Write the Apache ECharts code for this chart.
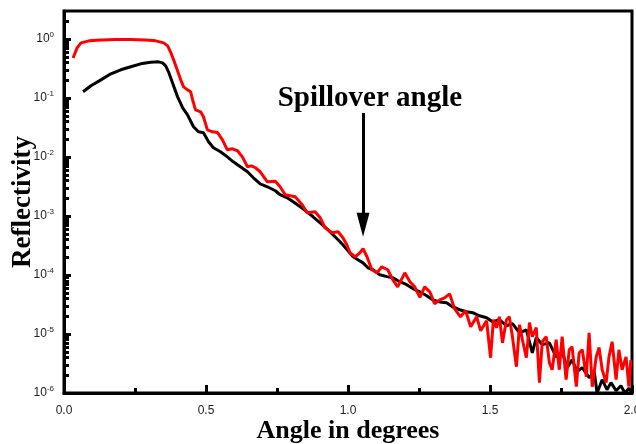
<!DOCTYPE html>
<html style="height: 100%">
<head>
    <meta charset="utf-8">
    <script src="https://cdn.jsdelivr.net/npm/echarts@6/dist/echarts.min.js"></script>
</head>
<body style="height: 100%; margin: 0; background: #fff">
    <div id="main" style="width: 636px; height: 444px"></div>
    <script type="text/javascript">
        // angle in degrees, reflectivity
        var redAngle = [0.032, 0.046, 0.060, 0.088, 0.130, 0.182, 0.235, 0.288, 0.323, 0.351, 0.365, 0.375, 0.386, 0.396,
            0.411, 0.421, 0.435, 0.446, 0.453, 0.463, 0.481, 0.491, 0.505, 0.523, 0.540, 0.558, 0.575, 0.593, 0.611,
            0.628, 0.646, 0.660, 0.674, 0.691, 0.716, 0.744, 0.761, 0.779, 0.814, 0.839, 0.856, 0.884, 0.902, 0.919,
            0.944, 0.965, 0.982, 0.996, 1.007, 1.025, 1.042, 1.053, 1.067, 1.084, 1.102, 1.119, 1.140, 1.158, 1.175,
            1.200, 1.218, 1.235, 1.253, 1.270, 1.288, 1.305, 1.323, 1.340, 1.358, 1.375, 1.396, 1.414, 1.432, 1.453,
            1.467, 1.488, 1.502, 1.512, 1.523, 1.533, 1.544, 1.558, 1.568, 1.579, 1.593, 1.604, 1.614, 1.628, 1.639,
            1.649, 1.663, 1.674, 1.684, 1.698, 1.709, 1.719, 1.733, 1.744, 1.754, 1.768, 1.779, 1.789, 1.804, 1.814,
            1.825, 1.839, 1.849, 1.860, 1.874, 1.884, 1.895, 1.909, 1.919, 1.930, 1.944, 1.954, 1.965, 1.979, 1.989, 1.996];
        var redR = [0.48, 0.71, 0.865, 0.935, 0.97, 0.99, 0.99, 0.97, 0.935, 0.865, 0.77, 0.61, 0.445, 0.326,
            0.204, 0.155, 0.138, 0.128, 0.0936, 0.0633, 0.0586, 0.0482, 0.029, 0.0268, 0.0262, 0.0196, 0.0133, 0.0138, 0.0128,
            0.0101, 0.00685, 0.0071, 0.0066, 0.00564, 0.00381, 0.0039, 0.00314, 0.0023, 0.00212, 0.00156, 0.00114, 0.00118, 9.36e-4, 6.34e-4,
            5.21e-4, 5.42e-4, 4.29e-4, 3.26e-4, 2.39e-4, 2.04e-4, 2.39e-4, 2.79e-4, 2.04e-4, 1.23e-4, 1.09e-4, 1.38e-4, 1.23e-4, 8.3e-5, 6.3e-5,
            1.09e-4, 7.7e-5, 6.3e-5, 4.19e-5, 6.3e-5, 5.2e-5, 3.27e-5, 3.8e-5, 4.1e-5, 4.8e-5, 2.69e-5, 1.96e-5, 2.48e-5, 1.33e-5, 1.96e-5,
            1.14e-5, 1.68e-5, 3.96e-6, 1.75e-5, 1.28e-5, 1.96e-5, 7.1e-6, 1.75e-5, 1.96e-5, 9.0e-6, 2.79e-6, 1.44e-5, 8.0e-6, 3.97e-6, 1.56e-5,
            9.0e-6, 1.28e-5, 1.5e-6, 7.4e-6, 9.0e-6, 3.27e-6, 2.48e-6, 8.0e-6, 2.48e-6, 9.0e-6, 1.68e-6, 5.4e-6, 6.1e-6, 1.28e-6, 4.8e-6,
            5.4e-6, 1.89e-6, 1.05e-5, 1.28e-6, 4.1e-6, 5.9e-6, 2.48e-6, 1.5e-6, 4.1e-6, 7.4e-6, 1.68e-6, 5.4e-6, 2.48e-6, 4.1e-6, 1.28e-6, 3.6e-6];

        var blackAngle = [0.067, 0.095, 0.130, 0.165, 0.200, 0.235, 0.270, 0.305, 0.333, 0.347, 0.358, 0.368, 0.382, 0.400,
            0.418, 0.435, 0.456, 0.474, 0.491, 0.509, 0.526, 0.551, 0.575, 0.596, 0.621, 0.646, 0.667, 0.691, 0.716,
            0.744, 0.761, 0.786, 0.807, 0.832, 0.856, 0.877, 0.902, 0.926, 0.947, 0.965, 0.982, 1.000, 1.018, 1.035,
            1.053, 1.070, 1.088, 1.112, 1.137, 1.158, 1.182, 1.207, 1.228, 1.253, 1.277, 1.298, 1.323, 1.347, 1.368,
            1.393, 1.418, 1.439, 1.463, 1.488, 1.509, 1.533, 1.558, 1.579, 1.604, 1.628, 1.649, 1.663, 1.684, 1.709,
            1.733, 1.754, 1.772, 1.789, 1.807, 1.825, 1.849, 1.867, 1.877, 1.895, 1.912, 1.926, 1.944, 1.961, 1.975, 1.989, 2.000];
        var blackR = [0.128, 0.162, 0.204, 0.258, 0.302, 0.34, 0.381, 0.404, 0.412, 0.396, 0.353, 0.279, 0.182, 0.105,
            0.0685, 0.0521, 0.0327, 0.0268, 0.0258, 0.0182, 0.0144, 0.0123, 0.0101, 0.00832, 0.00685, 0.00564, 0.00446, 0.00352, 0.00314,
            0.00269, 0.0023, 0.00204, 0.00175, 0.00144, 0.00118, 9.73e-4, 7.69e-4, 6.09e-4, 4.82e-4, 3.97e-4, 3.26e-4, 2.58e-4, 2.04e-4, 1.82e-4,
            1.61e-4, 1.33e-4, 1.23e-4, 1.01e-4, 9.4e-5, 9.0e-5, 7.7e-5, 6.85e-5, 5.9e-5, 5.2e-5, 4.46e-5, 3.8e-5, 3.5e-5, 3.4e-5, 2.9e-5,
            2.58e-5, 2.39e-5, 2.3e-5, 2.04e-5, 1.89e-5, 1.61e-5, 1.75e-5, 1.38e-5, 1.5e-5, 1.05e-5, 1.18e-5, 4.8e-6, 8.7e-6, 6.6e-6, 7.1e-6,
            4.1e-6, 5.0e-6, 2.69e-6, 3.66e-6, 2.3e-6, 2.69e-6, 1.82e-6, 2.3e-6, 1.0e-6, 1.68e-6, 1.14e-6, 1.5e-6, 1.09e-6, 1.33e-6, 1.0e-6, 1.2e-6, 1.0e-6];

        var decades = [-6, -5, -4, -3, -2, -1, 0];
        var arrowAngle = 1.053;
        var arrowFrom = 0.056, arrowTo = 7.1e-4;   // reflectivity at arrow tail / head centre
        var noteAngle = 1.077, noteR = 0.098;

        function toLog(angle, r) {
            return angle.map(function (a, i) { return [a, Math.log10(r[i])]; });
        }
        var minorLog = [];
        decades.forEach(function (d) {
            for (var k = 2; k <= 9; k++) {
                var v = d + Math.log10(k);
                if (v < Math.log10(3)) minorLog.push(v);
            }
        });

        var chart = echarts.init(document.getElementById('main'));
        var serif = 'Liberation Serif';
        var option = {
            animation: false,
            grid: { left: 64, right: 4, top: 11, bottom: 51, containLabel: false, outerBoundsMode: 'none',
                show: true, borderColor: '#000', borderWidth: 3 },
            xAxis: {
                type: 'value', min: 0, max: 2, interval: 0.5,
                name: 'Angle in degrees', nameLocation: 'middle', nameGap: 25, nameMoveOverlap: false,
                nameTextStyle: { fontFamily: serif, fontWeight: 'bold', fontSize: 26, color: '#000' },
                axisLine: { onZero: false, lineStyle: { color: '#000', width: 3 } },
                axisTick: { inside: true, length: 8, lineStyle: { color: '#000', width: 3 } },
                minorTick: { show: true, splitNumber: 2, length: 5, lineStyle: { color: '#000', width: 3 } },
                axisLabel: { margin: 12, color: '#222', fontFamily: 'Liberation Sans', fontSize: 12,
                    formatter: function (v) { return v.toFixed(1); } },
                splitLine: { show: false }
            },
            yAxis: [{
                type: 'value', min: -6, max: Math.log10(3),
                name: 'Reflectivity', nameLocation: 'middle', nameGap: 27, nameMoveOverlap: false,
                nameTextStyle: { fontFamily: serif, fontWeight: 'bold', fontSize: 27, color: '#000' },
                axisLine: { onZero: false, lineStyle: { color: '#000', width: 3 } },
                axisTick: { inside: true, length: 7, customValues: decades, lineStyle: { color: '#000', width: 3 } },
                axisLabel: {
                    customValues: decades, margin: 10, color: '#222',
                    formatter: function (v) { return '{b|10}{s|' + v + '}'; },
                    rich: {
                        b: { fontFamily: 'Liberation Sans', fontSize: 12, color: '#222' },
                        s: { fontFamily: 'Liberation Sans', fontSize: 8, color: '#222', padding: [0, 0, 9, 0] }
                    }
                },
                splitLine: { show: false }
            }, {
                type: 'value', min: -6, max: Math.log10(3), position: 'left',
                axisLine: { show: false, onZero: false },
                axisTick: { show: true, inside: true, length: 5, customValues: minorLog, lineStyle: { color: '#000', width: 3 } },
                axisLabel: { show: false },
                splitLine: { show: false }
            }],
            series: [{
                type: 'line', data: toLog(blackAngle, blackR), showSymbol: false,
                lineStyle: { color: '#000', width: 3 }, itemStyle: { color: '#000' },
                markLine: {
                    silent: true, symbol: ['none', 'triangle'], symbolSize: [13, 24],
                    label: { show: false },
                    lineStyle: { color: '#000', width: 3, type: 'solid' },
                    data: [[{ coord: [arrowAngle, Math.log10(arrowFrom)] }, { coord: [arrowAngle, Math.log10(arrowTo)] }]]
                },
                markPoint: {
                    silent: true, symbol: 'circle', symbolSize: 0,
                    itemStyle: { color: 'transparent' },
                    label: { show: true, position: 'inside', formatter: 'Spillover angle',
                        fontFamily: serif, fontWeight: 'bold', fontSize: 29, color: '#000' },
                    data: [{ coord: [noteAngle, Math.log10(noteR)] }]
                }
            }, {
                type: 'line', data: toLog(redAngle, redR), showSymbol: false,
                lineStyle: { color: '#ff0000', width: 3 }, itemStyle: { color: '#ff0000' }
            }]
        };
        chart.setOption(option);
    </script>
</body>
</html>
